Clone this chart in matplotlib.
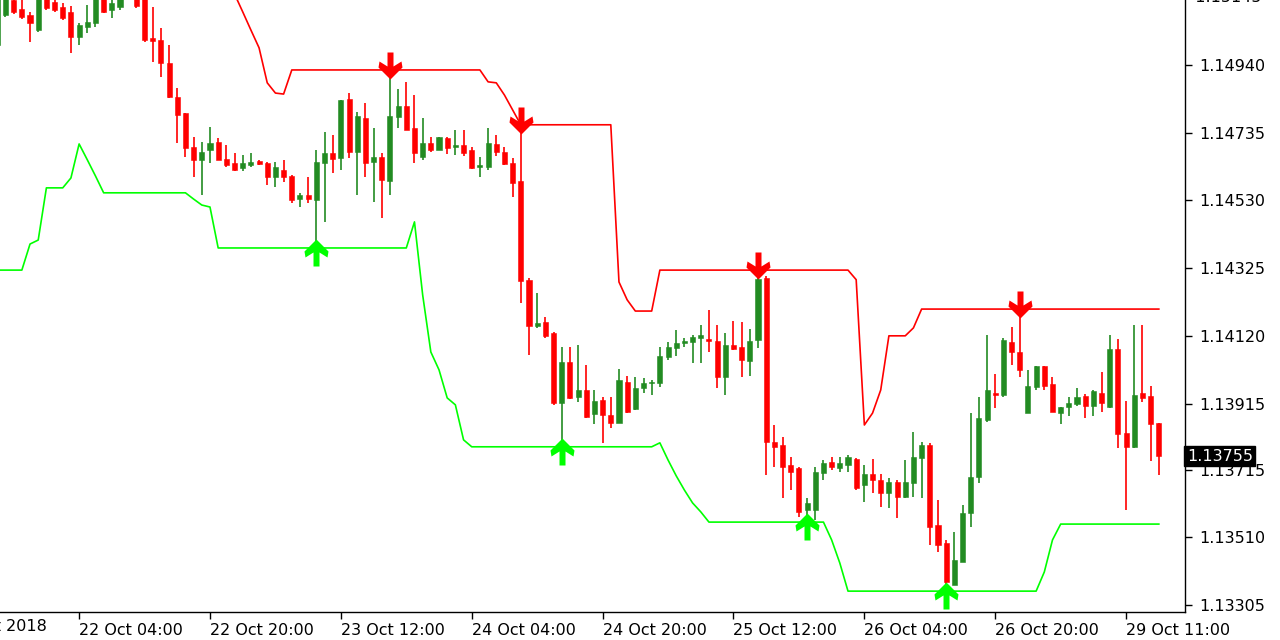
import numpy as np
import matplotlib.pyplot as plt
from matplotlib.transforms import blended_transform_factory

# EURUSD H1, bar index -1 = partly hidden candle at the left edge
opens = [
    1.15000,
    1.15092, 1.15137, 1.15110, 1.15092, 1.15046, 1.15143, 1.15131, 1.15116, 1.15101, 1.15025,
    1.15055, 1.15067, 1.15143, 1.15107, 1.15116, 1.15182, 1.15152, 1.15146, 1.15022, 1.15016,
    1.14946, 1.14843, 1.14795, 1.14692, 1.14653, 1.14683, 1.14707, 1.14656, 1.14643, 1.14628,
    1.14637, 1.14650, 1.14643, 1.14601, 1.14622, 1.14604, 1.14534, 1.14547, 1.14531, 1.14643,
    1.14674, 1.14659, 1.14837, 1.14677, 1.14780, 1.14646, 1.14662, 1.14589, 1.14783, 1.14816,
    1.14749, 1.14662, 1.14704, 1.14683, 1.14719, 1.14692, 1.14698, 1.14683, 1.14631, 1.14631,
    1.14701, 1.14677, 1.14643, 1.14589, 1.14289, 1.14150, 1.14162, 1.14129, 1.13917, 1.14041,
    1.13935, 1.13956, 1.13883, 1.13926, 1.13880, 1.13856, 1.13980, 1.13899, 1.13962, 1.13977,
    1.13977, 1.14056, 1.14083, 1.14098, 1.14101, 1.14114, 1.14111, 1.14104, 1.13995, 1.14092,
    1.14086, 1.14044, 1.14108, 1.14295, 1.13799, 1.13790, 1.13729, 1.13720, 1.13593, 1.13593,
    1.13705, 1.13738, 1.13720, 1.13729, 1.13747, 1.13668, 1.13702, 1.13684, 1.13644, 1.13678,
    1.13632, 1.13675, 1.13750, 1.13790, 1.13547, 1.13493, 1.13366, 1.13435, 1.13584, 1.13693,
    1.13865, 1.13947, 1.13941, 1.14101, 1.14071, 1.13886, 1.13965, 1.14029, 1.13974, 1.13886,
    1.13905, 1.13914, 1.13938, 1.13908, 1.13947, 1.13905, 1.14080, 1.13826, 1.13784, 1.13947,
    1.13938, 1.13856,
]
highs = [
    1.15180,
    1.15167, 1.15152, 1.15137, 1.15101, 1.15161, 1.15155, 1.15143, 1.15128, 1.15119, 1.15067,
    1.15122, 1.15161, 1.15155, 1.15137, 1.15152, 1.15213, 1.15167, 1.15161, 1.15116, 1.15052,
    1.15001, 1.14870, 1.14795, 1.14722, 1.14707, 1.14752, 1.14719, 1.14698, 1.14674, 1.14668,
    1.14674, 1.14653, 1.14646, 1.14646, 1.14653, 1.14607, 1.14553, 1.14601, 1.14683, 1.14737,
    1.14728, 1.14834, 1.14855, 1.14798, 1.14825, 1.14749, 1.14674, 1.14925, 1.14868, 1.14889,
    1.14849, 1.14780, 1.14722, 1.14722, 1.14722, 1.14743, 1.14743, 1.14692, 1.14662, 1.14749,
    1.14728, 1.14692, 1.14659, 1.14759, 1.14295, 1.14250, 1.14177, 1.14132, 1.14086, 1.14086,
    1.14092, 1.14032, 1.13956, 1.13935, 1.13935, 1.14020, 1.13999, 1.13995, 1.13992, 1.13986,
    1.14086, 1.14101, 1.14138, 1.14114, 1.14123, 1.14153, 1.14198, 1.14153, 1.14129, 1.14165,
    1.14162, 1.14141, 1.14319, 1.14301, 1.13850, 1.13814, 1.13753, 1.13723, 1.13629, 1.13723,
    1.13744, 1.13753, 1.13753, 1.13759, 1.13750, 1.13729, 1.13747, 1.13702, 1.13690, 1.13684,
    1.13744, 1.13829, 1.13799, 1.13796, 1.13623, 1.13502, 1.13526, 1.13608, 1.13886, 1.13935,
    1.14123, 1.14005, 1.14114, 1.14147, 1.14201, 1.14017, 1.14029, 1.14029, 1.13995, 1.13905,
    1.13935, 1.13962, 1.13944, 1.13956, 1.14011, 1.14123, 1.14111, 1.13923, 1.14153, 1.14153,
    1.13968, 1.13856,
]
lows = [
    1.14964,
    1.15086, 1.15095, 1.15079, 1.15010, 1.15040, 1.15107, 1.15101, 1.15076, 1.14977, 1.15001,
    1.15037, 1.15055, 1.15098, 1.15083, 1.15107, 1.15146, 1.15113, 1.15010, 1.14949, 1.14904,
    1.14840, 1.14704, 1.14662, 1.14601, 1.14547, 1.14643, 1.14653, 1.14631, 1.14619, 1.14619,
    1.14631, 1.14637, 1.14577, 1.14571, 1.14586, 1.14522, 1.14510, 1.14522, 1.14386, 1.14465,
    1.14613, 1.14622, 1.14659, 1.14547, 1.14601, 1.14525, 1.14477, 1.14547, 1.14749, 1.14743,
    1.14643, 1.14653, 1.14677, 1.14683, 1.14671, 1.14668, 1.14665, 1.14625, 1.14601, 1.14622,
    1.14665, 1.14637, 1.14540, 1.14220, 1.14062, 1.14144, 1.14114, 1.13911, 1.13784, 1.13929,
    1.13920, 1.13871, 1.13853, 1.13796, 1.13841, 1.13856, 1.13886, 1.13896, 1.13947, 1.13941,
    1.13965, 1.14047, 1.14059, 1.14086, 1.14038, 1.14038, 1.14071, 1.13962, 1.13941, 1.14077,
    1.13995, 1.13999, 1.14083, 1.13699, 1.13723, 1.13629, 1.13653, 1.13572, 1.13556, 1.13562,
    1.13684, 1.13714, 1.13708, 1.13708, 1.13653, 1.13617, 1.13644, 1.13602, 1.13599, 1.13568,
    1.13629, 1.13632, 1.13629, 1.13487, 1.13466, 1.13347, 1.13366, 1.13435, 1.13541, 1.13675,
    1.13859, 1.13902, 1.13935, 1.14032, 1.13995, 1.13886, 1.13956, 1.13956, 1.13889, 1.13853,
    1.13877, 1.13908, 1.13871, 1.13877, 1.13889, 1.13902, 1.13780, 1.13593, 1.13780, 1.13920,
    1.13741, 1.13699,
]
closes = [
    1.15150,
    1.15152, 1.15101, 1.15086, 1.15067, 1.15146, 1.15113, 1.15107, 1.15083, 1.15025, 1.15061,
    1.15070, 1.15146, 1.15101, 1.15128, 1.15143, 1.15161, 1.15119, 1.15016, 1.15013, 1.14946,
    1.14843, 1.14789, 1.14689, 1.14653, 1.14677, 1.14704, 1.14653, 1.14637, 1.14622, 1.14643,
    1.14646, 1.14640, 1.14601, 1.14631, 1.14601, 1.14531, 1.14547, 1.14534, 1.14646, 1.14674,
    1.14656, 1.14834, 1.14677, 1.14786, 1.14643, 1.14662, 1.14592, 1.14786, 1.14816, 1.14743,
    1.14674, 1.14704, 1.14683, 1.14722, 1.14689, 1.14698, 1.14674, 1.14628, 1.14637, 1.14704,
    1.14677, 1.14640, 1.14583, 1.14286, 1.14150, 1.14159, 1.14120, 1.13917, 1.14041, 1.13932,
    1.13956, 1.13874, 1.13923, 1.13880, 1.13856, 1.13986, 1.13889, 1.13962, 1.13977, 1.13980,
    1.14059, 1.14086, 1.14098, 1.14104, 1.14117, 1.14123, 1.14104, 1.13995, 1.14092, 1.14080,
    1.14047, 1.14104, 1.14292, 1.13799, 1.13784, 1.13723, 1.13708, 1.13587, 1.13614, 1.13708,
    1.13735, 1.13723, 1.13735, 1.13753, 1.13659, 1.13702, 1.13684, 1.13644, 1.13678, 1.13632,
    1.13678, 1.13753, 1.13790, 1.13541, 1.13487, 1.13375, 1.13441, 1.13584, 1.13693, 1.13871,
    1.13956, 1.13941, 1.14108, 1.14071, 1.14017, 1.13968, 1.14029, 1.13968, 1.13889, 1.13905,
    1.13917, 1.13935, 1.13908, 1.13953, 1.13917, 1.14080, 1.13823, 1.13784, 1.13941, 1.13932,
    1.13853, 1.13755,
]

# channel indicator (upper = red, lower = lime)
upper_band = [
    1.15290,
    1.15290, 1.15290, 1.15290, 1.15290, 1.15290, 1.15290, 1.15290, 1.15290, 1.15290, 1.15290,
    1.15290, 1.15290, 1.15290, 1.15290, 1.15290, 1.15290, 1.15290, 1.15290, 1.15290, 1.15290,
    1.15290, 1.15290, 1.15290, 1.15290, 1.15290, 1.15290, 1.15264, 1.15210, 1.15155, 1.15101,
    1.15046, 1.14992, 1.14886, 1.14855, 1.14852, 1.14925, 1.14925, 1.14925, 1.14925, 1.14925,
    1.14925, 1.14925, 1.14925, 1.14925, 1.14925, 1.14925, 1.14925, 1.14925, 1.14925, 1.14925,
    1.14925, 1.14925, 1.14925, 1.14925, 1.14925, 1.14925, 1.14925, 1.14925, 1.14925, 1.14889,
    1.14886, 1.14849, 1.14804, 1.14759, 1.14759, 1.14759, 1.14759, 1.14759, 1.14759, 1.14759,
    1.14759, 1.14759, 1.14759, 1.14759, 1.14759, 1.14283, 1.14229, 1.14195, 1.14195, 1.14195,
    1.14319, 1.14319, 1.14319, 1.14319, 1.14319, 1.14319, 1.14319, 1.14319, 1.14319, 1.14319,
    1.14319, 1.14319, 1.14319, 1.14319, 1.14319, 1.14319, 1.14319, 1.14319, 1.14319, 1.14319,
    1.14319, 1.14319, 1.14319, 1.14319, 1.14290, 1.13850, 1.13886, 1.13956, 1.14120, 1.14120,
    1.14120, 1.14144, 1.14201, 1.14201, 1.14201, 1.14201, 1.14201, 1.14201, 1.14201, 1.14201,
    1.14201, 1.14201, 1.14201, 1.14201, 1.14201, 1.14201, 1.14201, 1.14201, 1.14201, 1.14201,
    1.14201, 1.14201, 1.14201, 1.14201, 1.14201, 1.14201, 1.14201, 1.14201, 1.14201, 1.14201,
    1.14201, 1.14201,
]
lower_band = [
    1.14319,
    1.14319, 1.14319, 1.14319, 1.14398, 1.14410, 1.14568, 1.14568, 1.14568, 1.14598, 1.14701,
    1.14653, 1.14604, 1.14553, 1.14553, 1.14553, 1.14553, 1.14553, 1.14553, 1.14553, 1.14553,
    1.14553, 1.14553, 1.14553, 1.14534, 1.14516, 1.14510, 1.14386, 1.14386, 1.14386, 1.14386,
    1.14386, 1.14386, 1.14386, 1.14386, 1.14386, 1.14386, 1.14386, 1.14386, 1.14386, 1.14386,
    1.14386, 1.14386, 1.14386, 1.14386, 1.14386, 1.14386, 1.14386, 1.14386, 1.14386, 1.14386,
    1.14465, 1.14244, 1.14071, 1.14017, 1.13932, 1.13911, 1.13805, 1.13784, 1.13784, 1.13784,
    1.13784, 1.13784, 1.13784, 1.13784, 1.13784, 1.13784, 1.13784, 1.13784, 1.13784, 1.13784,
    1.13784, 1.13784, 1.13784, 1.13784, 1.13784, 1.13784, 1.13784, 1.13784, 1.13784, 1.13784,
    1.13796, 1.13744, 1.13696, 1.13653, 1.13614, 1.13587, 1.13556, 1.13556, 1.13556, 1.13556,
    1.13556, 1.13556, 1.13556, 1.13556, 1.13556, 1.13556, 1.13556, 1.13556, 1.13556, 1.13556,
    1.13556, 1.13502, 1.13432, 1.13347, 1.13347, 1.13347, 1.13347, 1.13347, 1.13347, 1.13347,
    1.13347, 1.13347, 1.13347, 1.13347, 1.13347, 1.13347, 1.13347, 1.13347, 1.13347, 1.13347,
    1.13347, 1.13347, 1.13347, 1.13347, 1.13347, 1.13347, 1.13347, 1.13405, 1.13502, 1.13550,
    1.13550, 1.13550, 1.13550, 1.13550, 1.13550, 1.13550, 1.13550, 1.13550, 1.13550, 1.13550,
    1.13550, 1.13550,
]

# signal arrows (bar indices)
buy_bars = [38, 68, 98, 115]
sell_bars = [47, 63, 92, 124]

# time axis
time_tick_bars = [9, 25, 41, 57, 73, 89, 105, 121, 137]
time_tick_labels = ['22 Oct 04:00', '22 Oct 20:00', '23 Oct 12:00', '24 Oct 04:00',
                    '24 Oct 20:00', '25 Oct 12:00', '26 Oct 04:00', '26 Oct 20:00',
                    '29 Oct 11:00']
first_label_bar = -7
first_label = '19 Oct 2018'

price_ticks = [1.13305, 1.13510, 1.13715, 1.13915, 1.14120, 1.14325, 1.14530, 1.14735, 1.14940]
top_price_label = 1.15145
last_price = 1.13755

bull_color = '#228B22'
bear_color = '#FF0000'

fig = plt.figure(figsize=(12.8, 6.4), dpi=100)
ax = fig.add_axes([0, 28 / 640, 1185 / 1280, 612 / 640])

x = np.arange(len(opens)) - 1
o = np.array(opens)
h = np.array(highs)
l = np.array(lows)
c = np.array(closes)
bull = c >= o
colors = np.where(bull, bull_color, bear_color)

# wicks and bodies
ax.vlines(x, l, h, colors=colors, linewidth=1.2, zorder=2)
body = np.where(np.abs(c - o) < 0.00003, 0.00003, c - o)
ax.bar(x, body, bottom=o, width=0.62, color=colors, edgecolor=colors,
       linewidth=0.4, zorder=2)

# channel lines
ax.plot(x, upper_band, color='#FF0000', linewidth=1.2, zorder=3)
ax.plot(x, lower_band, color='#00FF00', linewidth=1.2, zorder=3)

# arrow markers (pixel-ish units, origin at the channel line)
down_arrow = [(0, -9), (12, 3), (11, 9), (3, 4), (3, 18), (-3, 18), (-3, 4),
              (-11, 9), (-12, 3), (0, -9)]
up_arrow = [(px, -py) for px, py in down_arrow]
msize = 2 * 18 / (100 / 72)
ax.plot(sell_bars, [upper_band[i + 1] for i in sell_bars], linestyle='none',
        marker=down_arrow, markersize=msize, color='#FF0000',
        markeredgewidth=0, zorder=4)
ax.plot(buy_bars, [lower_band[i + 1] for i in buy_bars], linestyle='none',
        marker=up_arrow, markersize=msize, color='#00FF00',
        markeredgewidth=0, zorder=4)

ax.set_xlim(-0.672, 144.2)
ax.set_ylim(1.132838, 1.151368)

# axes styling like the terminal chart
for side in ['left', 'top']:
    ax.spines[side].set_visible(False)
ax.spines['right'].set_color('black')
ax.spines['bottom'].set_color('black')
ax.spines['right'].set_linewidth(1.0)
ax.spines['bottom'].set_linewidth(1.0)

ax.yaxis.tick_right()
ax.set_yticks(price_ticks)
ax.set_yticklabels(['%.5f' % p for p in price_ticks])
ax.tick_params(axis='y', direction='out', length=5, width=1, pad=5,
               labelsize=11.5, colors='black')

ax.set_xticks(time_tick_bars)
ax.set_xticklabels(time_tick_labels)
ax.tick_params(axis='x', direction='out', length=5, width=1, pad=3,
               labelsize=11.5, colors='black')
for lab in ax.get_xticklabels():
    lab.set_ha('left')

# partially visible labels at the chart edges
ax.text(first_label_bar, -0.012, first_label,
        transform=blended_transform_factory(ax.transData, ax.transAxes),
        ha='left', va='top', fontsize=11.5, clip_on=False)
ax.text(1.0, top_price_label, '  %.5f' % top_price_label,
        transform=blended_transform_factory(ax.transAxes, ax.transData),
        ha='left', va='center', fontsize=11.5, clip_on=False)

# current price box
ax.text(1.0015, last_price, '%.5f' % last_price,
        transform=blended_transform_factory(ax.transAxes, ax.transData),
        ha='left', va='center', fontsize=11.5, color='white', zorder=10,
        bbox=dict(boxstyle='square,pad=0.15', facecolor='black', edgecolor='black'),
        clip_on=False)

fig.savefig('out.png', dpi=100, facecolor='white')
